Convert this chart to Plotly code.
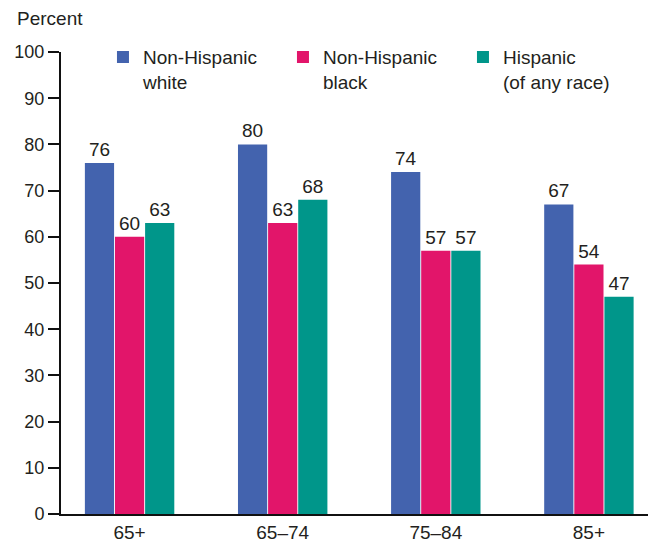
import plotly.graph_objects as go

# Age groups and percentages by race/ethnicity
age_groups = ["65+", "65–74", "75–84", "85+"]
nh_white = [76, 80, 74, 67]
nh_black = [60, 63, 57, 54]
hispanic = [63, 68, 57, 47]

series_names = ["Non-Hispanic<br>white", "Non-Hispanic<br>black", "Hispanic<br>(of any race)"]
series_values = [nh_white, nh_black, hispanic]
series_colors = ["#4363ae", "#e2156a", "#00968a"]

y_ticks = [0, 10, 20, 30, 40, 50, 60, 70, 80, 90, 100]

FONT = "Liberation Sans, Arial, sans-serif"
TEXT_COLOR = "#231f20"

fig = go.Figure()
for name, vals, color in zip(series_names, series_values, series_colors):
    fig.add_trace(go.Bar(
        x=age_groups,
        y=vals,
        name=name,
        marker=dict(color=color, line=dict(width=0)),
        text=[str(v) for v in vals],
        textposition="outside",
        textfont=dict(family=FONT, size=19, color=TEXT_COLOR),
        cliponaxis=False,
    ))

fig.update_layout(
    width=654,
    height=542,
    margin=dict(l=61, r=6, t=52, b=28, autoexpand=False),
    paper_bgcolor="white",
    plot_bgcolor="white",
    barmode="group",
    bargap=0.41,
    bargroupgap=0.03,
    font=dict(family=FONT, size=19, color=TEXT_COLOR),
    showlegend=True,
    legend=dict(
        orientation="h",
        x=0.0715, y=1.03,
        xanchor="left", yanchor="top",
        valign="top",
        entrywidth=135,
        entrywidthmode="pixels",
        tracegroupgap=0,
        font=dict(family=FONT, size=19, color=TEXT_COLOR),
        bgcolor="rgba(0,0,0,0)",
    ),
    xaxis=dict(
        type="category",
        range=[-0.448, 3.386],
        showline=True, linecolor="#111", linewidth=2,
        ticks="", showgrid=False, zeroline=False,
        tickfont=dict(family=FONT, size=19, color=TEXT_COLOR),
        fixedrange=True,
    ),
    yaxis=dict(
        range=[0, 100],
        tickvals=y_ticks,
        showline=True, linecolor="#111", linewidth=2,
        ticks="outside", ticklen=11, tickwidth=1.5, tickcolor="#111",
        showgrid=False, zeroline=False,
        tickfont=dict(family=FONT, size=18, color=TEXT_COLOR),
        fixedrange=True,
    ),
    annotations=[
        dict(
            text="Percent", xref="paper", yref="paper",
            x=-0.078, y=1.045, xanchor="left", yanchor="bottom",
            showarrow=False, font=dict(family=FONT, size=19, color=TEXT_COLOR),
        )
    ],
)

fig.write_html("out.html")
